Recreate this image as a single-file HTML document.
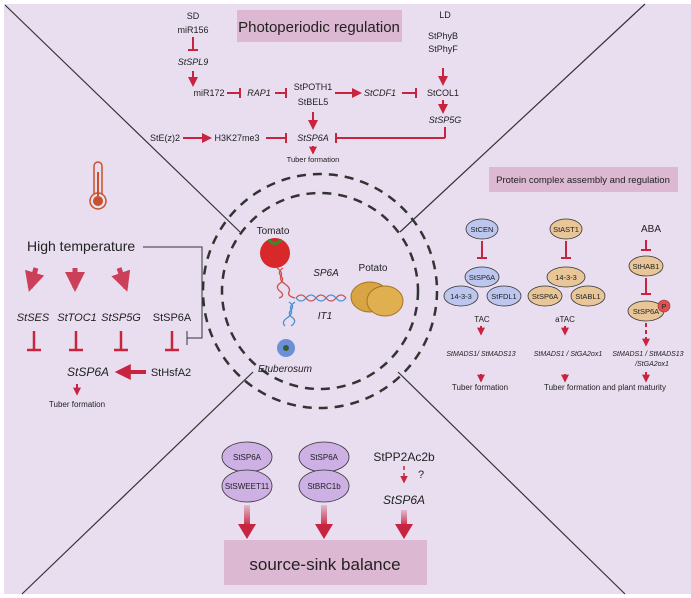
<!DOCTYPE html>
<html><head><meta charset="utf-8"><style>
html,body{margin:0;padding:0;background:#fff}
svg{display:block;font-family:"Liberation Sans",sans-serif}
</style></head><body>
<svg width="691" height="598" viewBox="0 0 691 598">
<defs>
<marker id="ah" viewBox="0 0 10 10" refX="8" refY="5" markerWidth="5" markerHeight="5" orient="auto"><path d="M0,0L10,5L0,10z" fill="#c8243f"/></marker>
<marker id="bh" viewBox="0 0 10 10" refX="8" refY="5" markerWidth="4" markerHeight="4" orient="auto"><path d="M0,0L10,5L0,10z" fill="#c8243f"/></marker>
<linearGradient id="ga" x1="0" y1="0" x2="0" y2="1"><stop offset="0" stop-color="#c8243f" stop-opacity="0.2"/><stop offset="1" stop-color="#c8243f"/></linearGradient>
</defs>
<rect x="4" y="4" width="687" height="590" fill="#e8def0"/>
<g stroke="#333" stroke-width="1.2" fill="none">
<line x1="5" y1="5" x2="240" y2="232"/>
<line x1="645" y1="4" x2="400" y2="232"/>
<line x1="253" y1="372" x2="22" y2="594"/>
<line x1="398" y1="372" x2="625" y2="594"/>
</g>
<g fill="none" stroke="#333" stroke-width="2.5" stroke-dasharray="9,7">
<circle cx="320" cy="291" r="117"/>
<circle cx="320" cy="291" r="98"/>
</g>
<!-- title boxes -->
<rect x="237" y="10" width="165" height="32" fill="#dcb8d2"/>
<text x="319" y="32" font-size="15" text-anchor="middle" fill="#222">Photoperiodic regulation</text>
<rect x="489" y="167" width="189" height="25" fill="#dcb8d2"/>
<text x="583" y="183" font-size="9.5" text-anchor="middle" fill="#222">Protein complex assembly and regulation</text>
<rect x="224" y="540" width="203" height="45" fill="#dcb8d2"/>
<text x="325" y="570" font-size="17" text-anchor="middle" fill="#222">source-sink balance</text>
<!-- photoperiodic -->
<g font-size="9" fill="#222" text-anchor="middle">
<text x="193" y="19">SD</text>
<text x="193" y="33">miR156</text>
<text x="193" y="65" font-style="italic">StSPL9</text>
<text x="209" y="96">miR172</text>
<text x="259" y="96" font-style="italic">RAP1</text>
<text x="313" y="90">StPOTH1</text>
<text x="313" y="105">StBEL5</text>
<text x="380" y="96" font-style="italic">StCDF1</text>
<text x="445" y="18">LD</text>
<text x="443" y="39">StPhyB</text>
<text x="443" y="52">StPhyF</text>
<text x="443" y="96">StCOL1</text>
<text x="445" y="123" font-style="italic">StSP5G</text>
<text x="165" y="141">StE(z)2</text>
<text x="237" y="141">H3K27me3</text>
<text x="313" y="141" font-style="italic">StSP6A</text>
<text x="313" y="162" font-size="7.5">Tuber formation</text>
</g>
<g stroke="#c8243f" stroke-width="2" fill="none">
<line x1="193" y1="37" x2="193" y2="50"/><line x1="188" y1="50" x2="198" y2="50"/>
<line x1="193" y1="71" x2="193" y2="85" marker-end="url(#ah)"/>
<line x1="227" y1="93" x2="240" y2="93"/><line x1="240" y1="88" x2="240" y2="98"/>
<line x1="275" y1="93" x2="286" y2="93"/><line x1="286" y1="88" x2="286" y2="98"/>
<line x1="335" y1="93" x2="360" y2="93" marker-end="url(#ah)"/>
<line x1="402" y1="93" x2="416" y2="93"/><line x1="416" y1="88" x2="416" y2="98"/>
<line x1="443" y1="68" x2="443" y2="84" marker-end="url(#ah)"/>
<line x1="443" y1="100" x2="443" y2="112" marker-end="url(#ah)"/>
<line x1="313" y1="112" x2="313" y2="128" marker-end="url(#ah)"/>
<line x1="183" y1="138" x2="210" y2="138" marker-end="url(#ah)"/>
<line x1="266" y1="138" x2="286" y2="138"/><line x1="286" y1="133" x2="286" y2="143"/>
<line x1="445" y1="127" x2="445" y2="138"/><line x1="445" y1="138" x2="336" y2="138"/><line x1="336" y1="133" x2="336" y2="143"/>
<line x1="313" y1="146" x2="313" y2="153" marker-end="url(#bh)"/>
</g>
<!-- thermometer -->
<g fill="none" stroke="#c8502a" stroke-width="1.5">
<path d="M94,194 L94,166 a4,4 0 0 1 8,0 L102,194"/>
<circle cx="98" cy="201" r="8"/>
</g>
<circle cx="98" cy="201" r="5" fill="#c8502a"/><line x1="98" y1="172" x2="98" y2="196" stroke="#c8502a" stroke-width="2"/>
<!-- high temperature -->
<text x="27" y="251" font-size="14" fill="#222">High temperature</text>
<polyline points="143,247 202,247 202,338 187,338" fill="none" stroke="#333" stroke-width="1"/>
<line x1="187" y1="331" x2="187" y2="345" stroke="#333" stroke-width="1"/>
<g stroke="#c8243f" stroke-width="5" fill="none" opacity="0.85">
<line x1="36" y1="268" x2="30" y2="288" marker-end="url(#bh)"/>
<line x1="75" y1="268" x2="75" y2="288" marker-end="url(#bh)"/>
<line x1="119" y1="268" x2="126" y2="288" marker-end="url(#bh)"/>
</g>
<g font-size="11" fill="#222" text-anchor="middle">
<text x="33" y="321" font-style="italic">StSES</text>
<text x="77" y="321" font-style="italic">StTOC1</text>
<text x="121" y="321" font-style="italic">StSP5G</text>
<text x="172" y="321">StSP6A</text>
<text x="88" y="376" font-size="12" font-style="italic">StSP6A</text>
<text x="171" y="376">StHsfA2</text>
<text x="77" y="407" font-size="8">Tuber formation</text>
</g>
<g stroke="#c8243f" stroke-width="2.5" fill="none">
<line x1="34" y1="331" x2="34" y2="350"/><line x1="27" y1="350" x2="41" y2="350"/>
<line x1="76" y1="331" x2="76" y2="350"/><line x1="69" y1="350" x2="83" y2="350"/>
<line x1="121" y1="331" x2="121" y2="350"/><line x1="114" y1="350" x2="128" y2="350"/>
<line x1="172" y1="331" x2="172" y2="350"/><line x1="165" y1="350" x2="179" y2="350"/>
<line x1="146" y1="372" x2="118" y2="372" stroke-width="4" marker-end="url(#bh)"/>
<line x1="77" y1="384" x2="77" y2="394" stroke-width="2" marker-end="url(#bh)"/>
</g>
<!-- center -->
<text x="273" y="234" font-size="10" text-anchor="middle" fill="#222">Tomato</text>
<circle cx="275" cy="253" r="15" fill="#d8282a"/><path d="M268,240 l7,4 l7,-4" stroke="#3a8a30" stroke-width="3" fill="none"/>
<text x="373" y="271" font-size="10" text-anchor="middle" fill="#222">Potato</text>
<ellipse cx="370" cy="297" rx="19" ry="15" fill="#d9a444" stroke="#a57520"/>
<ellipse cx="385" cy="301" rx="18" ry="15" fill="#e0b050" stroke="#a57520"/>
<text x="326" y="276" font-size="10" font-style="italic" text-anchor="middle" fill="#222">SP6A</text>
<text x="325" y="319" font-size="10" font-style="italic" text-anchor="middle" fill="#222">IT1</text>
<g fill="none" stroke-width="1.3">
<path d="M277,268 q6,4 4,8 q-2,4 4,8 q6,4 4,8 q-2,4 6,6" stroke="#d05050"/>
<path d="M283,268 q-6,4 -2,8 q4,4 -2,8 q-4,4 2,8 q4,4 -2,6" stroke="#d05050"/>
<path d="M296,298 q5,-6 10,0 q5,6 10,0 q5,-6 10,0 q5,6 10,0 q5,-6 10,0" stroke="#d05050"/>
<path d="M296,298 q5,6 10,0 q5,-6 10,0 q5,6 10,0 q5,-6 10,0 q5,6 10,0" stroke="#4a90d0"/>
<path d="M295,302 q-6,4 -4,8 q2,4 -4,8 q-6,4 -2,8" stroke="#4a90d0"/>
<path d="M289,302 q6,4 2,8 q-4,4 2,8 q4,4 -2,8" stroke="#4a90d0"/>
</g>
<circle cx="286" cy="348" r="9" fill="#6d8fd8"/><circle cx="286" cy="348" r="3" fill="#3a5a30"/>
<text x="285" y="372" font-size="10" font-style="italic" text-anchor="middle" fill="#222">Etuberosum</text>
<!-- protein complex -->
<g stroke="#333" stroke-width="0.8">
<ellipse cx="482" cy="229" rx="16" ry="10" fill="#bcc6ee"/>
<ellipse cx="482" cy="277" rx="17" ry="10" fill="#bcc6ee"/>
<ellipse cx="461" cy="296" rx="17" ry="10" fill="#bcc6ee"/>
<ellipse cx="504" cy="296" rx="17" ry="10" fill="#bcc6ee"/>
<ellipse cx="566" cy="229" rx="16" ry="10" fill="#e8c698"/>
<ellipse cx="566" cy="277" rx="19" ry="10" fill="#e8c698"/>
<ellipse cx="545" cy="296" rx="17" ry="10" fill="#e8c698"/>
<ellipse cx="588" cy="296" rx="17" ry="10" fill="#e8c698"/>
<ellipse cx="646" cy="266" rx="17" ry="10" fill="#e8c698"/>
<ellipse cx="646" cy="311" rx="18" ry="10" fill="#e8c698"/>
</g>
<circle cx="664" cy="306" r="6" fill="#e05050" stroke="#a03030" stroke-width="0.6"/>
<g font-size="7.5" fill="#222" text-anchor="middle">
<text x="482" y="232">StCEN</text>
<text x="482" y="280">StSP6A</text>
<text x="461" y="299">14-3-3</text>
<text x="504" y="299">StFDL1</text>
<text x="566" y="232">StAST1</text>
<text x="566" y="280">14-3-3</text>
<text x="545" y="299">StSP6A</text>
<text x="588" y="299">StABL1</text>
<text x="646" y="269">StHAB1</text>
<text x="646" y="314">StSP6A</text>
<text x="664" y="309" font-size="7">P</text>
<text x="651" y="232" font-size="10">ABA</text>
<text x="482" y="322" font-size="8">TAC</text>
<text x="565" y="322" font-size="8">aTAC</text>
<g font-style="italic" font-size="7">
<text x="481" y="356">StMADS1/ StMADS13</text>
<text x="568" y="356">StMADS1 / StGA2ox1</text>
<text x="648" y="356">StMADS1 / StMADS13</text>
<text x="652" y="366">/StGA2ox1</text>
</g>
<text x="480" y="390" font-size="8">Tuber formation</text>
<text x="605" y="390" font-size="8">Tuber formation and plant maturity</text>
</g>
<g stroke="#c8243f" stroke-width="2" fill="none">
<line x1="482" y1="241" x2="482" y2="258"/><line x1="477" y1="258" x2="487" y2="258"/>
<line x1="566" y1="241" x2="566" y2="258"/><line x1="561" y1="258" x2="571" y2="258"/>
<line x1="646" y1="240" x2="646" y2="250"/><line x1="641" y1="250" x2="651" y2="250"/>
<line x1="646" y1="278" x2="646" y2="294"/><line x1="641" y1="294" x2="651" y2="294"/>
<line x1="646" y1="323" x2="646" y2="345" stroke-dasharray="4,3" marker-end="url(#bh)"/>
<line x1="481" y1="326" x2="481" y2="334" marker-end="url(#bh)"/>
<line x1="565" y1="326" x2="565" y2="334" marker-end="url(#bh)"/>
<line x1="481" y1="374" x2="481" y2="381" marker-end="url(#bh)"/>
<line x1="565" y1="374" x2="565" y2="381" marker-end="url(#bh)"/>
<line x1="646" y1="372" x2="646" y2="381" marker-end="url(#bh)"/>
</g>
<!-- source-sink -->
<g stroke="#333" stroke-width="0.8" fill="#cdb0e4">
<ellipse cx="247" cy="457" rx="25" ry="15"/>
<ellipse cx="247" cy="486" rx="25" ry="16"/>
<ellipse cx="324" cy="457" rx="25" ry="15"/>
<ellipse cx="324" cy="486" rx="25" ry="16"/>
</g>
<g font-size="8" fill="#222" text-anchor="middle">
<text x="247" y="460">StSP6A</text>
<text x="247" y="489">StSWEET11</text>
<text x="324" y="460">StSP6A</text>
<text x="324" y="489">StBRC1b</text>
</g>
<text x="404" y="461" font-size="12" text-anchor="middle" fill="#222">StPP2Ac2b</text>
<text x="418" y="478" font-size="11" fill="#222">?</text>
<text x="404" y="504" font-size="12" font-style="italic" text-anchor="middle" fill="#222">StSP6A</text>
<line x1="404" y1="466" x2="404" y2="482" stroke="#c8243f" stroke-width="1.5" stroke-dasharray="4,3" marker-end="url(#ah)"/>
<g fill="#c8243f">
<rect x="244" y="505" width="6" height="22" fill="url(#ga)"/><path d="M238,524L256,524L247,539z"/>
<rect x="321" y="505" width="6" height="22" fill="url(#ga)"/><path d="M315,524L333,524L324,539z"/>
<rect x="401" y="510" width="6" height="17" fill="url(#ga)"/><path d="M395,524L413,524L404,539z"/>
</g>
</svg>
</body></html>
